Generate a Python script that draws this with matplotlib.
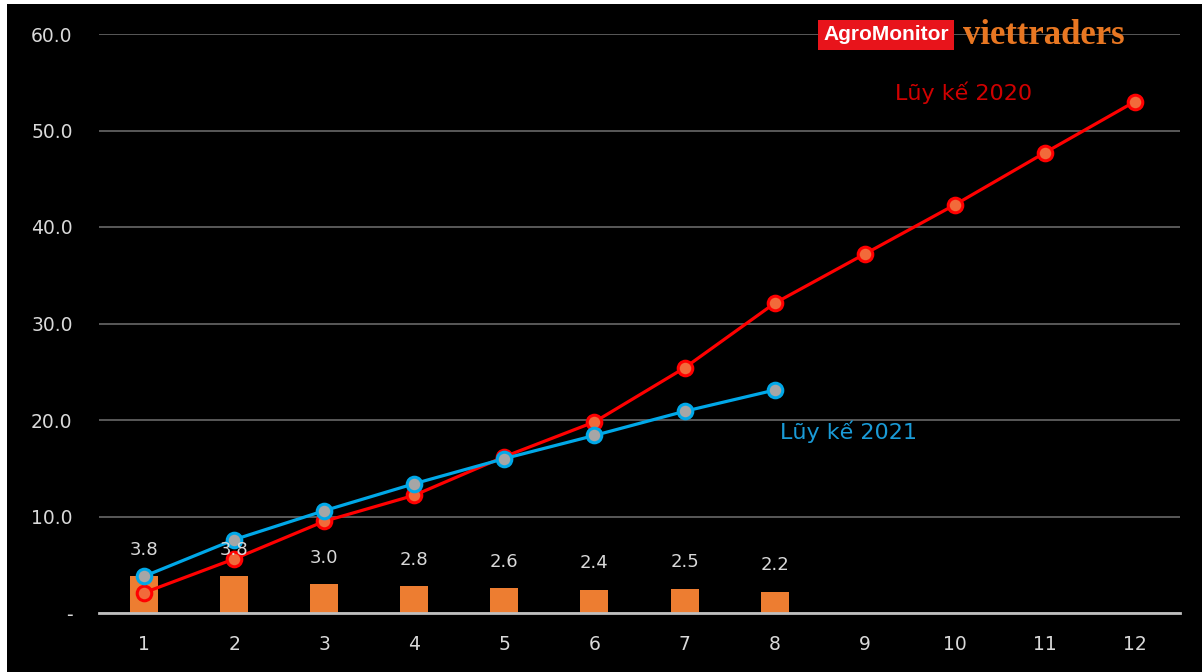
import matplotlib
matplotlib.use("Agg")
import matplotlib.pyplot as plt
from matplotlib.patches import Rectangle

months = list(range(1, 13))

# monthly volume 2021 (bars) and cumulative totals
monthly_2021 = [3.8, 3.8, 3.0, 2.8, 2.6, 2.4, 2.5, 2.2]
cum_2020 = [2.1, 5.6, 9.5, 12.2, 16.2, 19.8, 25.4, 32.1, 37.2, 42.3, 47.7, 53.0]
cum_2021 = [3.8, 7.6, 10.6, 13.4, 16.0, 18.4, 20.9, 23.1]

y_ticks = [0, 10, 20, 30, 40, 50, 60]
y_labels = ["-", "10.0", "20.0", "30.0", "40.0", "50.0", "60.0"]

label_2020 = "Lũy kế 2020"
label_2021 = "Lũy kế 2021"

BAR = "#ED7D31"
RED = "#FF0000"
BLUE = "#00A8E8"
GRID = "#595959"
TXT = "#D9D9D9"

fig = plt.figure(figsize=(12.02, 6.72), dpi=100, facecolor="white")
# black chart area with thin white margin on left/top
fig.patches.append(Rectangle((7 / 1202, 0), 1, 668 / 672, transform=fig.transFigure,
                             facecolor="black", edgecolor="none", zorder=-10))

ax = fig.add_axes([99 / 1202, 1 - 613 / 672, (1180 - 99) / 1202, (613 - 34) / 672])
ax.set_facecolor("black")
ax.patch.set_alpha(0)

ax.set_xlim(0.5, 12.5)
ax.set_ylim(0, 60)

ax.yaxis.grid(True, color=GRID, linewidth=1.4)
ax.set_axisbelow(True)
for s in ["top", "right", "left"]:
    ax.spines[s].set_visible(False)
ax.spines["bottom"].set_color("#BFBFBF")
ax.spines["bottom"].set_linewidth(2)
ax.spines["bottom"].set_zorder(5)

ax.set_xticks(months)
ax.set_xticklabels([str(m) for m in months])
ax.set_yticks(y_ticks)
ax.set_yticklabels(y_labels)
ax.tick_params(axis="both", length=0, colors=TXT, labelsize=13.5)
ax.tick_params(axis="x", pad=16)
ax.tick_params(axis="y", pad=19)

# monthly bars with value labels
bars = ax.bar(months[:len(monthly_2021)], monthly_2021, width=0.31, color=BAR, zorder=2)
for b, v in zip(bars, monthly_2021):
    ax.annotate(f"{v:.1f}", (b.get_x() + b.get_width() / 2, v), xytext=(0, 19),
                textcoords="offset points", ha="center", va="center",
                color=TXT, fontsize=13, zorder=6)

# cumulative lines
ax.plot(months, cum_2020, color=RED, linewidth=2.3, marker="o", markersize=10.5,
        markerfacecolor="#F26A3A", markeredgecolor=RED, markeredgewidth=2.2, zorder=3)
ax.plot(months[:len(cum_2021)], cum_2021, color=BLUE, linewidth=2.3, marker="o",
        markersize=10.5, markerfacecolor="#A6A6A6", markeredgecolor=BLUE,
        markeredgewidth=2.2, zorder=4)

ax.text(9.34, 53.9, label_2020, color="#D00000", fontsize=16, ha="left", va="center")
ax.text(8.06, 18.8, label_2021, color="#1A9BD7", fontsize=16, ha="left", va="center")

# logo
fig.text(886 / 1202, 1 - 35 / 672, "AgroMonitor", color="white", fontsize=15,
         fontweight="bold", family="Liberation Sans", ha="center", va="center",
         bbox=dict(boxstyle="square,pad=0.25", facecolor="#E8141B", edgecolor="none"))
fig.text(963 / 1202, 1 - 36 / 672, "viettraders", color="#E87722", fontsize=25,
         fontweight="bold", family="Liberation Serif", ha="left", va="center")

fig.savefig("out.png", dpi=100, facecolor=fig.get_facecolor())
